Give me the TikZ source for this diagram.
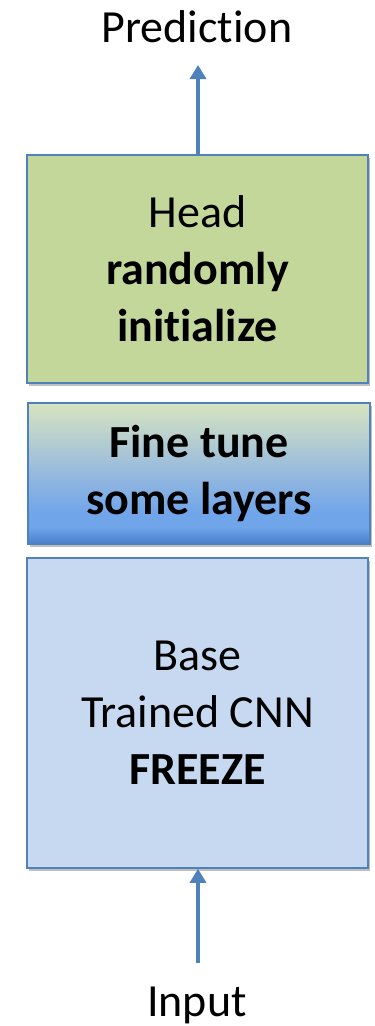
\documentclass[tikz,border=0pt]{standalone}
\usepackage{fontspec}
\setmainfont[Ligatures={NoCommon,NoRare,NoContextual}]{Carlito}
\usetikzlibrary{arrows.meta,shadows}
\definecolor{edgeblue}{RGB}{79,129,189}
\definecolor{headgreen}{RGB}{196,215,155}
\definecolor{baseblue}{RGB}{198,217,241}
\definecolor{gtop}{RGB}{215,228,190}
\definecolor{gupper}{RGB}{182,206,208}
\definecolor{gmid}{RGB}{150,185,222}
\definecolor{gbright}{RGB}{112,165,234}
\definecolor{gbot}{RGB}{70,126,202}
\pgfdeclareverticalshading{finetune}{100bp}{%
  color(0bp)=(gbot); color(25bp)=(gbot); color(31bp)=(gbright); color(36bp)=(gbright);
  color(50bp)=(gmid); color(62bp)=(gupper); color(75bp)=(gtop); color(100bp)=(gtop)}
\newcommand{\nolig}{\kern0pt\relax}
\tikzset{
  layerbox/.style={draw=edgeblue, line width=1.6pt, minimum width=341pt,
    align=center, font=\fontsize{46}{57}\selectfont,
    drop shadow={shadow xshift=2pt, shadow yshift=-3pt, opacity=0.25, fill=black}},
  label/.style={font=\fontsize{46}{57}\selectfont, anchor=base, inner sep=0pt},
  flow/.style={draw=edgeblue, line width=4.5pt, -{Triangle[width=16pt,length=14pt]}}
}
\begin{document}
\begin{tikzpicture}[x=1pt,y=-1pt]
\useasboundingbox (0,0) rectangle (375,1026);
\node[layerbox, fill=headgreen, minimum height=228pt] (head) at (197.5,269)
  {Head\\\textbf{randomly}\\\textbf{init\nolig ialize}};
\node[layerbox, shading=finetune, minimum width=342pt, minimum height=141pt] (fine) at (199,473.5)
  {\textbf{Fine tune}\\\textbf{some layers}};
\node[layerbox, fill=baseblue, minimum height=310pt] (base) at (197.5,713)
  {Base\\Trained CNN\\\textbf{FREEZE}};
\node[label] (pred) at (197,42) {Predict\nolig ion};
\node[label] (inp) at (197,1016) {Input};
\coordinate (ptip) at (198,65);
\coordinate (itail) at (198,963);
\draw[flow] (head.north -| ptip) -- (ptip);
\draw[flow] (itail) -- (base.south -| itail);
\end{tikzpicture}
\end{document}
